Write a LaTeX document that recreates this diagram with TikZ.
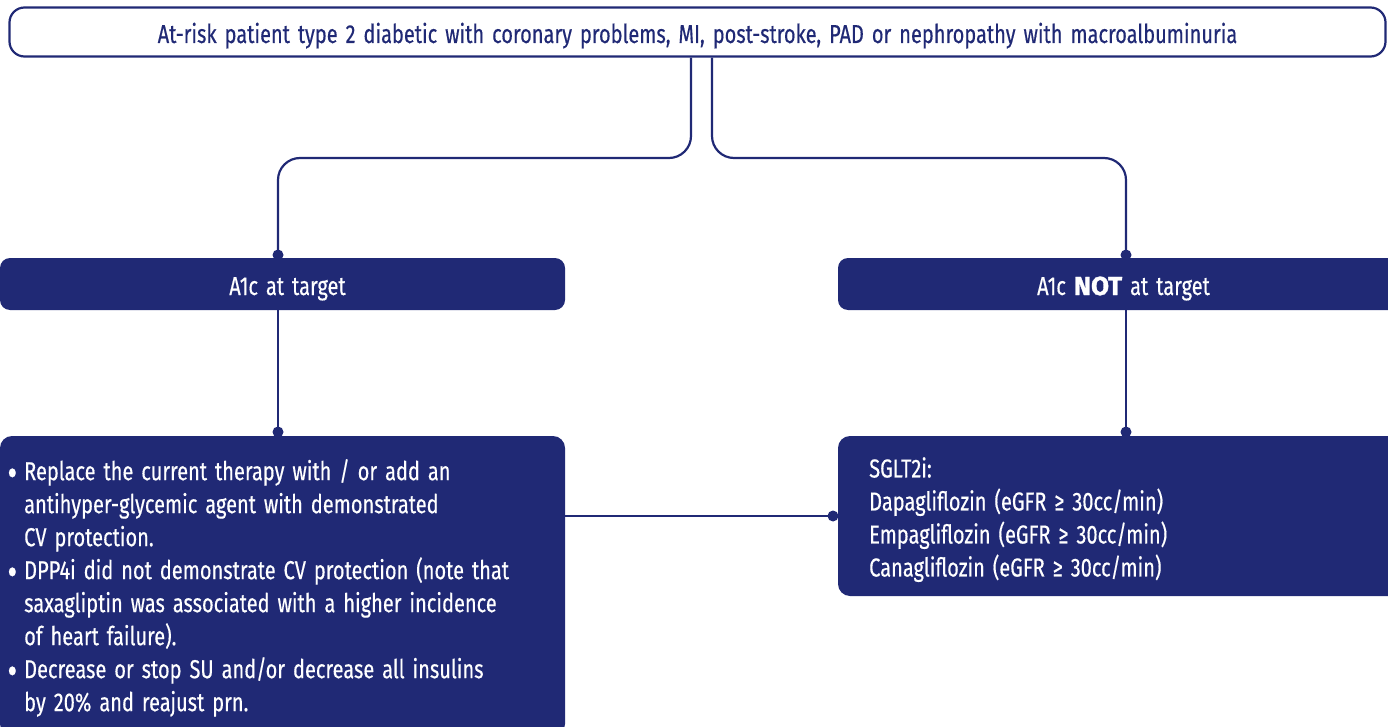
\documentclass[tikz,border=0pt]{standalone}
\usepackage{fontspec}
\setmainfont[FakeStretch=0.77,WordSpace=1.5,FakeBold=0.4]{Fira Sans}
\newfontfamily\notfont[FakeBold=1.2]{Fira Sans}
\definecolor{navy}{RGB}{32,41,117}
\newcommand{\chartfont}{\fontsize{26}{33}\selectfont}
\newcommand{\dotmark}{\llap{\raisebox{-6pt}{\scalebox{1.5}{\textbullet}}\hspace{7pt}}}

\begin{document}
\begin{tikzpicture}[x=1pt,y=-1pt,
  head/.style={draw=navy,line width=2.2pt,rounded corners=15pt,text=navy,font=\chartfont,
    minimum width=1376pt,minimum height=49pt,inner sep=0pt,text height=22pt,text depth=0pt},
  tag/.style={fill=navy,rounded corners=10pt,text=white,font=\chartfont,
    minimum height=52pt,inner sep=0pt,text height=22pt,text depth=0pt},
  panel/.style={fill=navy,rounded corners=12pt,inner sep=0pt},
  txt/.style={text=white,font=\chartfont,align=left,inner sep=0pt,anchor=north west},
  link/.style={navy,line width=2.2pt,rounded corners=22pt},
  dot/.style={circle,fill=navy,inner sep=0pt,minimum size=11pt}]
\def\forkL{691}
\def\forkR{712}
\def\forkY{158}
  \clip (0,0) rectangle (1388,727);
  %\draw[help lines,step=50pt] (0,0) grid (1388,727);
\path
(697.5,32) node [head] (risk) {At-risk patient type 2 diabetic with coronary problems, MI, post-stroke, PAD or nephropathy with macroalbuminuria}
(282.5,284) node [tag,minimum width=565pt] (ontarget) {}
(287.5,284) node [tag,fill=none] (ontext) {A1c at target}
(1123.5,284) node [tag,minimum width=571pt] (offtarget) {A1c {\notfont\bfseries NOT} at target}
(282.5,586) node [panel,minimum width=565pt,minimum height=300pt] (keep) {}
(1123.5,516) node [panel,minimum width=571pt,minimum height=160pt] (switch) {}
(278,255) node [dot] (dotA) {}
(1126,255) node [dot] (dotB) {}
(278,432) node [dot] (dotC) {}
(1126,432) node [dot] (dotD) {}
(833,516) node [dot] (dotE) {}
;
\coordinate (splitL) at (\forkL,\forkY);
\coordinate (splitR) at (\forkR,\forkY);
\draw[link] (risk.south -| splitL) -- (splitL) -| (dotA.center);
\draw[link] (risk.south -| splitR) -- (splitR) -| (dotB.center);
\draw[link] (ontarget.south -| dotC) -- (dotC.center);
\draw[link] (offtarget.south -| dotD) -- (dotD.center);
\draw[link] (keep.east |- dotE) -- (dotE.center);
\node[txt] (keeptext) at (24,459) {%
\dotmark Replace the current therapy with / or add an\\
antihyper-glycemic agent with demonstrated\\
CV protection.\\
\dotmark DPP4i did not demonstrate CV protection (note that\\
saxagliptin was associated with a higher incidence\\
of heart failure).\\
\dotmark Decrease or stop SU and/or decrease all insulins\\
by 20\% and reajust prn.};
\node[txt] (switchtext) at (869,457) {%
SGLT2i:\\
Dapagliflozin (eGFR ≥ 30cc/min)\\
Empagliflozin (eGFR ≥ 30cc/min)\\
Canagliflozin (eGFR ≥ 30cc/min)};
\end{tikzpicture}
\end{document}
